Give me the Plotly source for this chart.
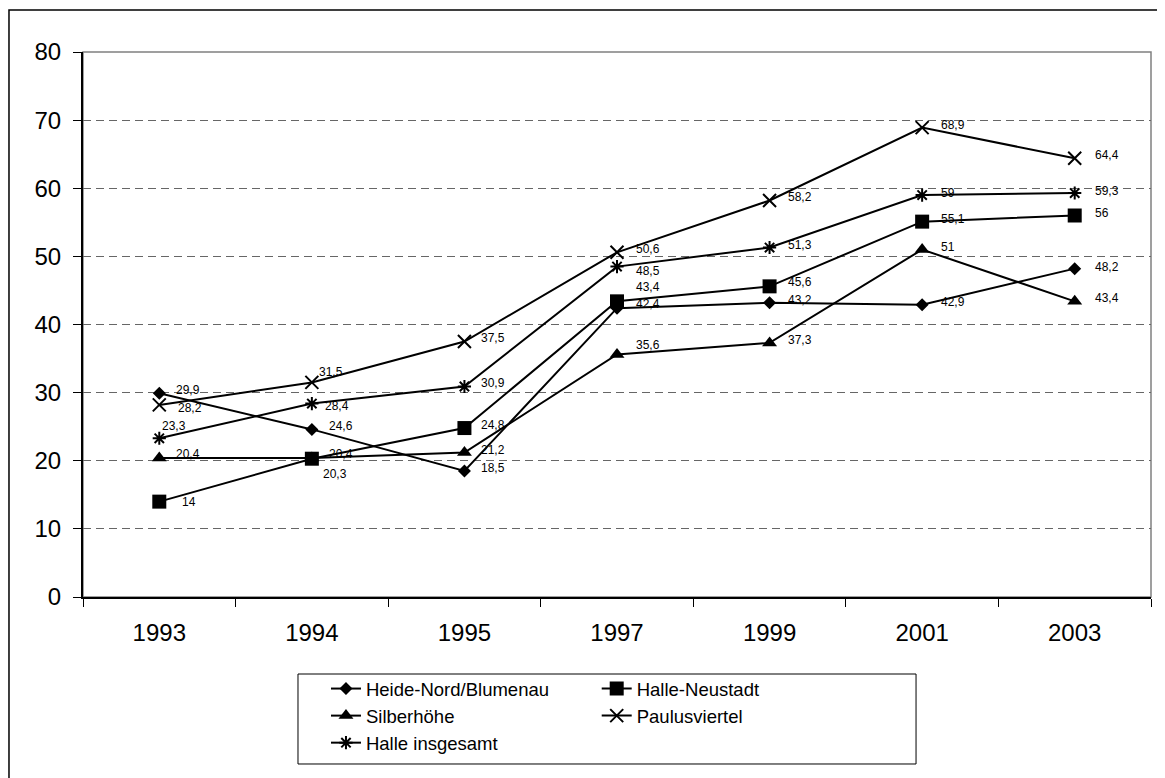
import plotly.graph_objects as go

years = ["1993", "1994", "1995", "1997", "1999", "2001", "2003"]

heide = [29.9, 24.6, 18.5, 42.4, 43.2, 42.9, 48.2]
neustadt = [14, 20.3, 24.8, 43.4, 45.6, 55.1, 56]
silberhoehe = [20.4, 20.4, 21.2, 35.6, 37.3, 51, 43.4]
paulus = [28.2, 31.5, 37.5, 50.6, 58.2, 68.9, 64.4]
halle = [23.3, 28.4, 30.9, 48.5, 51.3, 59, 59.3]

names = ["Heide-Nord/Blumenau", "Halle-Neustadt", "Silberhöhe", "Paulusviertel", "Halle insgesamt"]
y_ticks = [0, 10, 20, 30, 40, 50, 60, 70, 80]

# styling (label offsets in px: dx right, dy down)
symbols = ["diamond", "square", "triangle-up", "x-thin-open", "asterisk-open"]
sizes = [10, 14, 13, 13, 11]
legends = ["legend", "legend2", "legend", "legend2", "legend"]
label_dx = [
    [15.5, 16.5, 16, 18, 17.7, 17.7, 19],
    [22, 10.5, 16, 18, 17.7, 17.7, 19],
    [15.5, 16.5, 16, 18, 17.7, 17.7, 19],
    [17.5, 6.5, 16, 18, 17.7, 17.7, 19],
    [1.5, 12.5, 16, 18, 17.7, 17.7, 19],
]
label_dy = [
    [-3, -3, -3, -4, -3, -3, -2],
    [0, 15, -3.5, -14, -4, -3, -3],
    [-4, -4, -2.5, -9, -3, -3, -3.6],
    [3, -10, -4, -3, -4, -3, -3],
    [-12, 2, -3, 4, -2.5, -2.5, -2.5],
]

series = [heide, neustadt, silberhoehe, paulus, halle]
FONT = "Liberation Sans, Arial, sans-serif"

fig = go.Figure()
annotations = []
for k, (nm, vals) in enumerate(zip(names, series)):
    fig.add_trace(go.Scatter(
        x=years, y=vals, name=nm, mode="lines+markers",
        line=dict(color="black", width=2),
        marker=dict(symbol=symbols[k], size=sizes[k], color="black",
                    line=dict(color="black", width=2 if "open" in symbols[k] else 0)),
        legend=legends[k],
    ))
    for i, v in enumerate(vals):
        annotations.append(dict(
            x=i, y=v, xref="x", yref="y",
            text=f"{v:g}".replace(".", ","),
            showarrow=False, xanchor="left", yanchor="middle",
            xshift=label_dx[k][i] - 1, yshift=-label_dy[k][i],
            font=dict(family=FONT, size=12, color="black"),
        ))

fig.update_layout(
    width=1157, height=770,
    margin=dict(l=75, r=14, t=44, b=181),
    paper_bgcolor="white", plot_bgcolor="white",
    font=dict(family=FONT, color="black"),
    showlegend=True,
    annotations=annotations,
    legend=dict(x=0.2275, y=-0.134, xanchor="left", yanchor="top",
                orientation="v", font=dict(size=18.5, family=FONT),
                bgcolor="rgba(0,0,0,0)", borderwidth=0),
    legend2=dict(x=0.481, y=-0.134, xanchor="left", yanchor="top",
                 orientation="v", font=dict(size=18.5, family=FONT),
                 bgcolor="rgba(0,0,0,0)", borderwidth=0),
    xaxis=dict(
        type="category", categoryorder="array", categoryarray=years,
        range=[-0.5, 6.5], tickson="boundaries",
        ticks="outside", ticklen=8, tickcolor="black", tickwidth=1,
        showline=True, linecolor="black", linewidth=2,
        showgrid=False, zeroline=False,
        tickfont=dict(size=24, family=FONT, color="black"),
        ticklabelstandoff=13,
    ),
    yaxis=dict(
        range=[0, 80], tickvals=y_ticks,
        ticks="outside", ticklen=8, tickcolor="black", tickwidth=1,
        showline=True, linecolor="black", linewidth=2,
        showgrid=True, gridcolor="#666666", griddash="8px,5px", gridwidth=1,
        zeroline=False,
        tickfont=dict(size=24, family=FONT, color="black"),
        ticklabelstandoff=7,
    ),
    shapes=[
        dict(type="rect", xref="paper", yref="paper", x0=0, x1=1, y0=0, y1=1,
             line=dict(color="#808080", width=1.5), layer="below"),
        dict(type="rect", xref="paper", yref="paper", x0=0.2013, x1=0.78,
             y0=-0.3064, y1=-0.1413, line=dict(color="black", width=1)),
        dict(type="rect", xref="paper", yref="paper", x0=-0.0693, x1=1.05,
             y0=-0.37, y1=1.077, line=dict(color="black", width=1.5)),
    ],
)

fig.write_html("out.html")
